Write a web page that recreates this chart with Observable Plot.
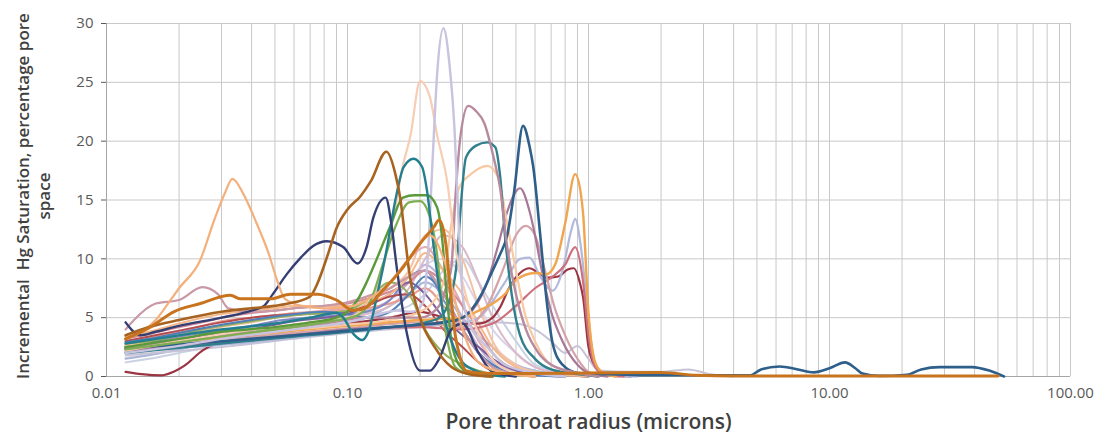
<!DOCTYPE html>
<html>
<head>
<meta charset="utf-8">
<script src="https://cdn.jsdelivr.net/npm/d3@7"></script>
<script src="https://cdn.jsdelivr.net/npm/@observablehq/plot@0.6"></script>
<style>
  html, body { margin: 0; padding: 0; background: #ffffff; }
  #chart { width: 1112px; height: 443px; }
</style>
</head>
<body>
<div id="chart"></div>
<script>
// ---------- axis ticks ----------
const xTicks = [0.01, 0.1, 1, 10, 100];
const xTickLabels = ["0.01", "0.10", "1.00", "10.00", "100.00"];
const yTicks = [0, 5, 10, 15, 20, 25, 30];
const xTitle = "Pore throat radius (microns)";
const yTitle = "Incremental  Hg Saturation, percentage pore\nspace";

// ---------- series: [pore throat radius (microns), incremental Hg saturation (%)] ----------
const sBundlePink = [[0.012,2.8],[0.015,3.2],[0.02,3.6],[0.025,4.0],[0.03,4.3],[0.04,4.8],[0.05,5.0],[0.06,5.3],[0.08,5.6],[0.1,5.8],[0.12,6.5],[0.15,8],[0.18,10],[0.21,11],[0.25,9],[0.3,6],[0.35,3],[0.4,1.5],[0.5,0.5],[0.6,0.2],[0.8,0.1],[1.0,0]];
const sBundleLilac = [[0.012,2.2],[0.015,2.5],[0.02,3.0],[0.025,3.4],[0.03,3.8],[0.04,4.2],[0.05,4.5],[0.06,4.8],[0.08,5.0],[0.1,5.2],[0.12,5.6],[0.15,6.5],[0.18,8],[0.21,9.5],[0.25,8],[0.3,5],[0.35,2.5],[0.4,1.2],[0.5,0.4],[0.6,0.2],[0.8,0.1],[1.0,0]];
const sBundlePeach = [[0.012,2.5],[0.015,2.8],[0.02,3.3],[0.025,3.8],[0.03,4.2],[0.04,4.6],[0.05,5.0],[0.06,5.2],[0.08,5.4],[0.1,5.6],[0.12,6.2],[0.15,7.5],[0.18,9],[0.21,12],[0.25,12.5],[0.3,10],[0.35,6],[0.4,3],[0.5,1],[0.6,0.4],[0.8,0.1],[1.0,0]];
const sBundlePaleBlue = [[0.012,1.5],[0.015,1.8],[0.02,2.3],[0.025,2.8],[0.03,3.1],[0.04,3.5],[0.05,3.8],[0.06,4.0],[0.08,4.3],[0.1,4.6],[0.12,5.0],[0.15,6],[0.18,7],[0.21,8],[0.25,7],[0.3,5],[0.35,3.5],[0.4,2.5],[0.5,1],[0.6,0.5],[0.8,0.2],[1.0,0]];
const sBundleSalmon = [[0.012,3.0],[0.015,3.3],[0.02,3.8],[0.025,4.3],[0.03,4.7],[0.04,5.0],[0.05,5.2],[0.06,5.4],[0.08,5.5],[0.1,5.6],[0.12,5.8],[0.15,6.2],[0.18,6.8],[0.21,7.5],[0.25,6],[0.3,4],[0.35,2],[0.4,0.8],[0.5,0.2],[0.6,0.1],[0.8,0]];
const sBundlePeriwinkle = [[0.012,2.6],[0.015,2.9],[0.02,3.4],[0.025,3.7],[0.03,3.9],[0.04,4.3],[0.05,4.7],[0.06,4.9],[0.08,5.1],[0.1,5.3],[0.12,5.5],[0.15,6.5],[0.18,8.5],[0.21,9],[0.25,6.5],[0.3,4],[0.35,2],[0.4,1],[0.5,0.3],[0.6,0.1],[0.8,0]];
const sBundleMauve = [[0.012,2.0],[0.015,2.2],[0.02,2.6],[0.025,3.0],[0.03,3.4],[0.04,3.8],[0.05,4.1],[0.06,4.4],[0.08,4.6],[0.1,4.9],[0.12,5.3],[0.15,6],[0.18,7.5],[0.21,10],[0.25,12],[0.3,11],[0.35,8],[0.4,5],[0.5,2],[0.6,0.8],[0.8,0.2],[1.0,0]];
const sBundlePurple = [[0.012,2.4],[0.015,2.6],[0.02,3.1],[0.025,3.4],[0.03,3.6],[0.04,4.0],[0.05,4.4],[0.06,4.7],[0.08,5.0],[0.1,5.3],[0.12,6.0],[0.15,7],[0.18,8],[0.21,7],[0.25,5],[0.3,3.5],[0.35,2.5],[0.4,1.5],[0.5,0.5],[0.6,0.2],[0.8,0.1],[1.0,0]];
const sBundleGrayBlue = [[0.012,1.2],[0.015,1.5],[0.02,2.0],[0.025,2.4],[0.03,2.8],[0.04,3.3],[0.05,3.6],[0.06,3.9],[0.08,4.2],[0.1,4.5],[0.12,5],[0.15,5.5],[0.18,6],[0.21,7],[0.25,9],[0.3,10],[0.35,8],[0.4,6],[0.5,3],[0.6,1],[0.8,0.3],[1.0,0]];
const sBundleRose = [[0.012,3.2],[0.015,3.6],[0.02,4.2],[0.025,4.6],[0.03,5.0],[0.04,5.4],[0.05,5.6],[0.06,5.8],[0.08,6.0],[0.1,6.2],[0.12,6.6],[0.15,7.2],[0.18,8],[0.21,9],[0.25,8],[0.3,6],[0.35,4],[0.4,2],[0.5,0.6],[0.6,0.2],[0.8,0]];
const sBundleLightOrange = [[0.012,3.4],[0.015,3.8],[0.02,4.5],[0.025,5.0],[0.03,5.3],[0.04,5.6],[0.05,5.8],[0.06,6.0],[0.08,6.0],[0.1,6.0],[0.12,6.3],[0.15,7],[0.18,8.5],[0.21,10.5],[0.25,9],[0.3,7],[0.35,4.5],[0.4,2.5],[0.5,0.8],[0.6,0.3],[0.8,0.1],[1.0,0]];
const sBundleDarkRed = [[0.012,3.0],[0.015,3.4],[0.02,3.9],[0.025,4.3],[0.03,4.6],[0.04,5.0],[0.05,5.2],[0.06,5.3],[0.08,5.4],[0.1,5.5],[0.12,6],[0.15,6.8],[0.18,7],[0.21,6],[0.25,4],[0.3,2.5],[0.35,1.2],[0.4,0.5],[0.5,0.2],[0.6,0]];
const sBundleLavender = [[0.012,1.6],[0.015,1.9],[0.02,2.4],[0.025,2.8],[0.03,3.2],[0.04,3.6],[0.05,3.9],[0.06,4.2],[0.08,4.5],[0.1,4.8],[0.12,5.4],[0.15,6.5],[0.18,8],[0.21,9.5],[0.25,10],[0.3,8.5],[0.35,6],[0.4,4],[0.5,2],[0.6,0.8],[0.8,0.2],[1.0,0]];
const sBundleOlive = [[0.012,2.7],[0.015,3.0],[0.02,3.5],[0.025,4.0],[0.03,4.3],[0.04,4.7],[0.05,5.0],[0.06,5.2],[0.08,5.4],[0.1,5.6],[0.12,6.5],[0.15,8],[0.18,7],[0.21,4],[0.25,2],[0.3,1],[0.35,0.5],[0.4,0.2],[0.5,0.1],[0.6,0]];
const sBundleBlue = [[0.012,2.9],[0.015,3.2],[0.02,3.7],[0.025,4.1],[0.03,4.4],[0.04,4.8],[0.05,5.1],[0.06,5.3],[0.08,5.5],[0.1,5.3],[0.12,5.0],[0.15,5.5],[0.18,7],[0.21,8.5],[0.25,7],[0.3,4],[0.35,2],[0.4,1],[0.5,0.3],[0.6,0.1],[0.8,0]];
const sLowMaroon = [[0.012,0.4],[0.014,0.2],[0.017,0.1],[0.019,0.4],[0.021,0.9],[0.025,2.2],[0.03,3.0],[0.04,3.5],[0.06,4.0],[0.08,4.3],[0.1,4.5],[0.15,5.0],[0.2,5.5],[0.25,5.0],[0.3,4.5],[0.35,4.5],[0.4,5.0],[0.43,5.9],[0.47,7.6],[0.52,8.8],[0.57,9.2],[0.62,8.8],[0.67,8.4],[0.75,8.5],[0.82,9.1],[0.87,9.2],[0.92,8.0],[0.95,6.7],[1.0,2.5],[1.07,0.8],[1.15,0.2],[1.5,0]];
const sDustyPink = [[0.012,4.0],[0.013,4.8],[0.016,6.2],[0.02,6.5],[0.025,7.6],[0.029,7.0],[0.032,5.8],[0.04,5.5],[0.05,5.6],[0.06,5.8],[0.08,6.0],[0.1,6.3],[0.12,6.8],[0.15,7.5],[0.18,8.5],[0.21,9],[0.25,7],[0.3,4],[0.35,2],[0.4,0.8],[0.5,0.2],[0.6,0]];
const sPeach033 = [[0.012,3.2],[0.014,3.8],[0.016,4.8],[0.018,6.2],[0.02,7.5],[0.0245,9.9],[0.028,13.3],[0.031,15.6],[0.0333,16.8],[0.037,15.5],[0.042,13],[0.047,10.5],[0.051,8.2],[0.055,6.6],[0.065,6.0],[0.08,5.8],[0.1,5.9],[0.12,6.5],[0.15,8],[0.18,10],[0.22,12],[0.26,9],[0.3,4],[0.35,1.2],[0.45,0.3],[0.6,0]];
const sNavy = [[0.012,4.6],[0.0138,3.5],[0.016,3.8],[0.02,4.3],[0.03,5.0],[0.04,5.6],[0.045,6.0],[0.049,7.0],[0.056,8.7],[0.064,10.1],[0.072,11.1],[0.082,11.5],[0.096,11],[0.11,9.6],[0.12,11],[0.128,13.5],[0.144,15.2],[0.152,13],[0.16,9.3],[0.177,3.5],[0.2,0.5],[0.22,0.5],[0.24,1.5],[0.27,4],[0.3,4.5],[0.35,2],[0.4,0.4],[0.5,0]];
const sBrown = [[0.012,3.5],[0.015,4.2],[0.02,4.8],[0.03,5.5],[0.04,5.8],[0.05,6.0],[0.06,6.3],[0.07,6.8],[0.075,7.9],[0.083,10.4],[0.09,12.6],[0.1,14.2],[0.113,15.3],[0.125,16.6],[0.145,19.1],[0.158,17.2],[0.166,15],[0.172,12.4],[0.18,9],[0.2,5],[0.23,2.5],[0.27,0.8],[0.32,0.2],[0.4,0]];
const sTeal = [[0.012,2.8],[0.02,3.5],[0.03,4.0],[0.05,4.5],[0.07,5.0],[0.09,5.4],[0.096,5.0],[0.106,3.6],[0.115,3.1],[0.122,3.8],[0.133,7.0],[0.146,11],[0.158,15],[0.171,17.8],[0.188,18.5],[0.204,17.8],[0.213,16],[0.228,11],[0.25,5.3],[0.27,3.0],[0.3,1.2],[0.35,0.4],[0.45,0]];
const sGreen = [[0.012,2.5],[0.02,3.2],[0.03,3.8],[0.05,4.2],[0.07,4.6],[0.09,5.0],[0.1,5.5],[0.11,6.5],[0.12,8],[0.128,9.3],[0.15,12.7],[0.17,15.2],[0.19,15.4],[0.214,15.4],[0.235,14.4],[0.246,12.1],[0.258,7],[0.27,3],[0.29,1],[0.32,0.3],[0.4,0]];
const sGreen2 = [[0.012,2.3],[0.02,2.9],[0.03,3.4],[0.05,4.0],[0.08,4.6],[0.11,5.2],[0.125,6.5],[0.14,9.5],[0.16,13],[0.18,14.8],[0.2,14.9],[0.22,13.5],[0.235,10.5],[0.25,5],[0.265,2.2],[0.28,0.8],[0.32,0.2],[0.4,0]];
const sPalePeach = [[0.012,2.2],[0.02,3.0],[0.03,3.6],[0.05,4.2],[0.07,4.6],[0.1,5.0],[0.12,6.0],[0.14,9],[0.15,12.1],[0.16,15],[0.166,17],[0.183,20.6],[0.2,25.1],[0.22,23.7],[0.235,20.6],[0.26,16.4],[0.28,11],[0.3,8],[0.33,5],[0.37,2.5],[0.42,1],[0.5,0.3],[0.6,0]];
const sLavenderPeak = [[0.012,2.0],[0.02,2.6],[0.03,3.2],[0.05,3.8],[0.07,4.2],[0.1,4.6],[0.13,5.2],[0.16,5.6],[0.185,5.5],[0.205,6.2],[0.215,10],[0.225,18],[0.236,26],[0.25,29.6],[0.265,26.5],[0.278,21],[0.29,12.5],[0.3,7],[0.32,4.5],[0.38,2.5],[0.45,1],[0.6,0.3],[0.8,0]];
const sMauvePeak = [[0.012,2.5],[0.02,3.0],[0.03,3.5],[0.05,4.0],[0.08,4.5],[0.12,5.0],[0.2,5.0],[0.24,6.0],[0.26,8],[0.27,9.3],[0.28,15],[0.295,20.6],[0.317,23],[0.34,22.6],[0.37,21.5],[0.404,18.6],[0.43,16],[0.46,11],[0.5,7],[0.55,4],[0.62,2],[0.7,1],[0.9,0.3],[1.1,0]];
const sTealPlateau = [[0.012,2.0],[0.03,2.8],[0.06,3.4],[0.1,3.8],[0.15,4.2],[0.2,4.5],[0.24,5],[0.27,7],[0.285,10],[0.295,14.4],[0.31,18.6],[0.34,19.6],[0.38,19.9],[0.41,19.5],[0.43,17],[0.45,12],[0.48,7],[0.52,3.5],[0.6,1.5],[0.7,0.6],[0.9,0.2],[1.1,0]];
const sBlue = [[0.012,2.4],[0.03,3.0],[0.06,3.5],[0.1,3.9],[0.15,4.2],[0.2,4.4],[0.25,4.6],[0.3,5.0],[0.36,7.0],[0.4,9.0],[0.43,10.4],[0.46,12],[0.49,15.5],[0.535,21.3],[0.57,19.5],[0.59,17.8],[0.63,12.1],[0.67,6.5],[0.71,2.8],[0.78,1.0],[0.9,0.3],[1.2,0.2],[2,0.1],[4.67,0.1],[5.2,0.6],[6.2,0.85],[7.4,0.6],[8.6,0.35],[10,0.7],[11.6,1.2],[12.8,0.7],[13.7,0.25],[16,0.05],[21,0.15],[24,0.6],[28.6,0.8],[39,0.8],[46,0.5],[53,0]];
const sLightPeachPlateau = [[0.012,2.6],[0.03,3.4],[0.06,4.0],[0.1,4.4],[0.15,4.8],[0.2,5.5],[0.23,6.5],[0.25,8],[0.27,13],[0.29,16],[0.33,17.3],[0.38,17.9],[0.42,17],[0.46,13],[0.5,9],[0.55,5],[0.6,3],[0.7,1],[0.9,0.3],[1.1,0]];
const sOrange088 = [[0.012,2.6],[0.03,3.3],[0.06,3.9],[0.1,4.3],[0.2,4.8],[0.3,5.0],[0.35,5.6],[0.4,6.2],[0.45,7.0],[0.5,8.2],[0.6,8.8],[0.67,8.7],[0.73,9.6],[0.8,13],[0.88,17.2],[0.93,15.5],[0.95,13.8],[1.0,5.4],[1.07,1.1],[1.15,0.3],[1.3,0]];
const sLightBlue088 = [[0.012,2.1],[0.03,2.7],[0.06,3.3],[0.1,3.8],[0.2,4.3],[0.3,4.6],[0.35,5],[0.45,8],[0.52,10],[0.57,10.1],[0.63,8.5],[0.71,7.3],[0.78,9],[0.85,12.5],[0.88,13.4],[0.93,11],[0.98,6.7],[1.04,2],[1.1,0.5],[1.3,0.1],[1.6,0]];
const sPinkRed088 = [[0.012,2.3],[0.03,3.0],[0.06,3.6],[0.1,4.0],[0.2,4.2],[0.3,4.0],[0.4,4.5],[0.5,6],[0.6,7.5],[0.7,8.4],[0.8,9.5],[0.88,11],[0.95,8],[1.0,3.5],[1.07,0.8],[1.2,0.1],[1.4,0]];
const sMauvePurple = [[0.012,2.2],[0.03,2.9],[0.06,3.5],[0.1,4.0],[0.2,4.4],[0.3,5.0],[0.34,6.0],[0.38,8],[0.42,11],[0.46,14],[0.52,16],[0.57,14],[0.6,12],[0.64,9],[0.7,5.5],[0.78,3],[0.9,1],[1.0,0.3],[1.2,0]];
const sDustyRose = [[0.012,2.4],[0.03,3.1],[0.06,3.7],[0.1,4.1],[0.2,4.6],[0.3,4.2],[0.38,6],[0.45,9.5],[0.5,12],[0.55,12.8],[0.6,12],[0.66,9],[0.72,6],[0.8,3.5],[0.9,1.5],[1.0,0.4],[1.2,0]];
const sGrayLilacTail = [[0.012,1.8],[0.03,2.5],[0.06,3.2],[0.1,3.7],[0.2,4.2],[0.3,4.5],[0.4,4.6],[0.5,4.5],[0.6,4.0],[0.7,3.0],[0.8,2.0],[0.9,2.6],[1.0,1.5],[1.1,0.5],[1.5,0.4],[2,0.4],[2.6,0.6],[3.2,0.2],[4,0]];
const sThickOrange = [[0.012,3.2],[0.0152,4.2],[0.019,5.5],[0.0245,6.2],[0.0327,6.9],[0.036,6.6],[0.048,6.6],[0.058,7.0],[0.075,7.0],[0.09,6.5],[0.106,5.6],[0.12,5.9],[0.14,7.3],[0.166,9],[0.2,11.3],[0.228,12.7],[0.24,13.3],[0.255,11.5],[0.268,7],[0.28,3.5],[0.29,2],[0.31,0.5],[0.35,0.3],[0.5,0.25],[1,0.3],[2,0.35],[2.8,0.1],[4,0.05],[50,0.05]];

// ---------- which series, drawn in this order ----------
const seriesData = [
  sBundleGrayBlue, sBundleLavender, sBundlePaleBlue, sBundleLilac, sBundleMauve, sBundlePeach,
  sBundlePink, sBundleSalmon, sBundleRose, sBundlePeriwinkle, sBundlePurple, sBundleLightOrange,
  sBundleDarkRed, sBundleOlive, sBundleBlue, sGrayLilacTail, sDustyPink, sLowMaroon,
  sLightBlue088, sPinkRed088, sDustyRose, sMauvePurple, sOrange088,
  sLightPeachPlateau, sTealPlateau, sBlue, sMauvePeak, sPalePeach, sLavenderPeak,
  sGreen2, sGreen, sTeal, sNavy, sPeach033, sBrown, sThickOrange
];
// styles (kept apart from the data)
const seriesColors = [
  "#c9d1e2", "#dcd3e8", "#a9b6d6", "#c2b3d7", "#d9b9c9", "#f3c2a4",
  "#e4aab5", "#e89c92", "#d48b99", "#8189c2", "#7c5e9c", "#f5b98b",
  "#b44d4f", "#93b05e", "#5080b8", "#c8c4d8", "#c999a6", "#9c3543",
  "#b3b9db", "#cd6f7d", "#d4a3a9", "#a77797", "#f0a54e",
  "#f8c9a2", "#2f7f8c", "#2e5f8a", "#b78a9d", "#f7cdb3", "#c8c3de",
  "#7fae52", "#5a9a3a", "#237f90", "#353f73", "#f4b07c", "#a7631f", "#c8741e"
];
const seriesWidths = [
  2, 2, 2, 2, 2, 2,
  2, 2, 2, 2, 2, 2,
  2, 2, 2, 2, 2.2, 2.2,
  2.2, 2.2, 2.2, 2.2, 2.4,
  2.2, 2.4, 2.6, 2.4, 2.2, 2.4,
  2.2, 2.4, 2.4, 2.4, 2.2, 2.6, 3
];

// ---------- grid lines (1..9 per decade) ----------
const gridX = [];
for (let e = -2; e <= 1; e++) for (let m = 1; m <= 9; m++) gridX.push(m * Math.pow(10, e));
gridX.push(100);

const FONT = "'Open Sans', 'Liberation Sans', sans-serif";

const lineMarks = seriesData.map((pts, i) =>
  Plot.line(pts, {
    x: d => d[0], y: d => d[1],
    stroke: seriesColors[i], strokeWidth: seriesWidths[i],
    curve: "monotone-x", strokeLinejoin: "round", strokeLinecap: "round"
  })
);

const chart = Plot.plot({
  width: 1112,
  height: 443,
  marginLeft: 106,
  marginRight: 42,
  marginTop: 23,
  marginBottom: 67,
  style: { fontFamily: FONT, fontSize: "15px", color: "#595959", background: "#ffffff", overflow: "visible" },
  x: {
    type: "log", domain: [0.01, 100], ticks: xTicks,
    tickFormat: d => xTickLabels[xTicks.findIndex(t => Math.abs(t - d) < 1e-9)],
    tickSize: 0, tickPadding: 11, label: null
  },
  y: { domain: [0, 30], ticks: yTicks, tickSize: 5, tickPadding: 8, label: null },
  marks: [
    Plot.ruleX(gridX, { stroke: "#c8c8c8", strokeWidth: 1 }),
    Plot.ruleY(yTicks, { stroke: "#c8c8c8", strokeWidth: 1 }),
    Plot.ruleX([0.01], { stroke: "#a6a6a6", strokeWidth: 1 }),
    Plot.ruleY([0], { stroke: "#a6a6a6", strokeWidth: 1 }),
    ...lineMarks,
    Plot.text([xTitle], {
      text: d => d, frameAnchor: "bottom", dy: 52,
      fontSize: 21, fontWeight: 600, fill: "#404040", fontFamily: FONT
    }),
    Plot.text([yTitle], {
      text: d => d, frameAnchor: "left", textAnchor: "middle", dx: -74, dy: -4, rotate: -90, lineHeight: 1.25,
      fontSize: 17, fontWeight: 600, fill: "#404040", fontFamily: FONT
    })
  ]
});

document.getElementById("chart").appendChild(chart);
</script>
</body>
</html>
